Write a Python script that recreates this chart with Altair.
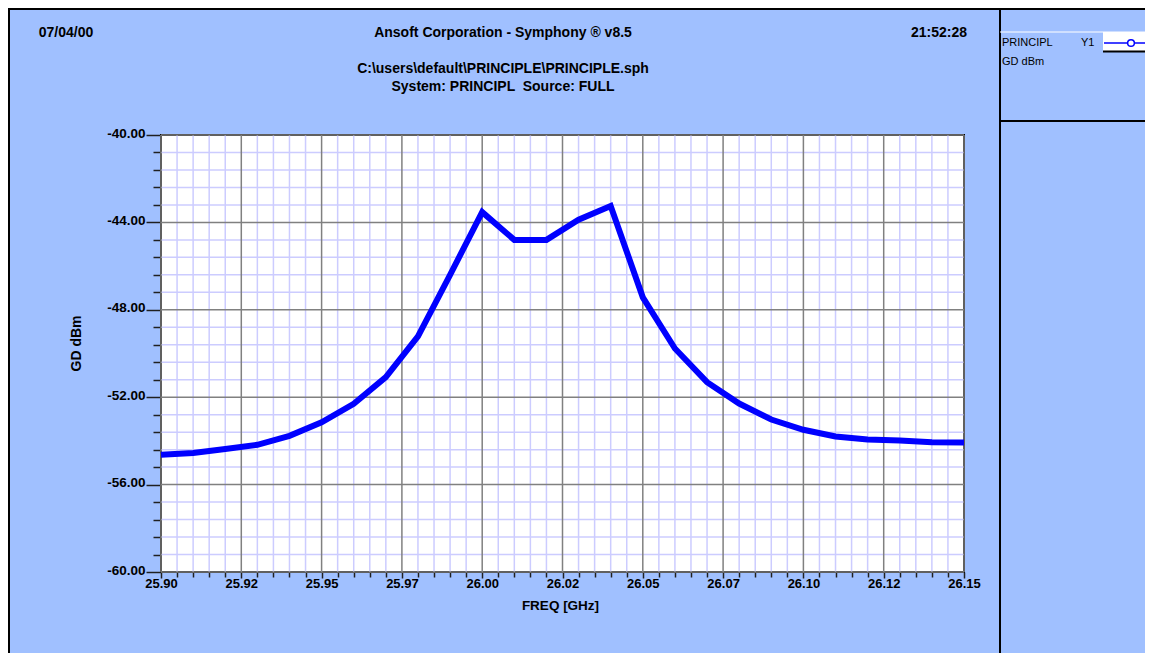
import json
import altair as alt
import pandas as pd

# ---- data ----
freq = [25.90, 25.91, 25.92, 25.93, 25.94, 25.95, 25.96, 25.97, 25.98, 25.99,
        26.00, 26.01, 26.02, 26.03, 26.04, 26.05, 26.06, 26.07, 26.08, 26.09,
        26.10, 26.11, 26.12, 26.13, 26.14, 26.15]
gd_dbm = [-54.63, -54.55, -54.37, -54.18, -53.77, -53.15, -52.30, -51.08, -49.22, -46.40,
          -43.53, -44.80, -44.80, -43.88, -43.25, -47.43, -49.77, -51.31, -52.29, -53.02,
          -53.49, -53.80, -53.94, -53.98, -54.06, -54.07]

x_major = [25.900, 25.925, 25.950, 25.975, 26.000, 26.025, 26.050, 26.075, 26.100, 26.125, 26.150]
x_labels = ["25.90", "25.92", "25.95", "25.97", "26.00", "26.02", "26.05", "26.07", "26.10", "26.12", "26.15"]
y_major = [-60.0, -56.0, -52.0, -48.0, -44.0, -40.0]
y_labels = ["-60.00", "-56.00", "-52.00", "-48.00", "-44.00", "-40.00"]
x_minor = [round(25.9 + 0.005 * i, 3) for i in range(51) if i % 5 != 0]
y_minor = [round(-60 + 0.8 * i, 1) for i in range(26) if i % 5 != 0]

FONT = "Liberation Sans"
BG = "#a0c0ff"
W, H = 803, 437

df = pd.DataFrame({"f": freq, "v": gd_dbm})
xs = alt.Scale(domain=[25.9, 26.15], nice=False, zero=False)
ys = alt.Scale(domain=[-60, -40], nice=False, zero=False)
one = alt.InlineData(values=[{"k": 0}])

x_major_axis = alt.Axis(
    orient="bottom", values=x_major,
    labelExpr=f"{json.dumps(x_labels)}[round((datum.value-25.9)/0.025)]",
    grid=False, domain=False, tickSize=6, tickWidth=1.5, tickColor="#202020",
    labelPadding=-1, labelFont=FONT, labelFontSize=13, labelFontWeight="bold",
    labelColor="black", labelFlush=False, labelOverlap=False,
    title="FREQ [GHz]", titleFont=FONT, titleFontSize=13.5, titleFontWeight="bold",
    titleColor="black", titleX=399, titleY=33, titleBaseline="middle", titleAlign="center",
)
x_minor_axis = alt.Axis(
    orient="bottom", values=x_minor, labels=False, grid=False, domain=False,
    tickSize=5, tickWidth=1.5, tickColor="#202020", title=None,
)
y_major_axis = alt.Axis(
    orient="left", values=y_major,
    labelExpr=f"{json.dumps(y_labels)}[round((datum.value+60)/4)]",
    grid=False, domain=False, tickSize=15, tickWidth=1.5, tickColor="#202020",
    labelPadding=1, labelFont=FONT, labelFontSize=13.5, labelFontWeight="bold",
    labelColor="black", labelFlush=False, labelOverlap=False, labelOffset=-2,
    title="GD dBm", titleFont=FONT, titleFontSize=14, titleFontWeight="bold",
    titleColor="black", titleX=-85, titleY=208, titleAngle=270,
    titleBaseline="middle", titleAlign="center",
)
y_minor_axis = alt.Axis(
    orient="left", values=y_minor, labels=False, grid=False, domain=False,
    tickSize=8, tickWidth=1.5, tickColor="#202020", title=None,
)

minor_x = alt.Chart(pd.DataFrame({"g": x_minor})).mark_rule(color="#ccccff", strokeWidth=1.5).encode(
    x=alt.X("g:Q", scale=xs, axis=x_minor_axis))
minor_y = alt.Chart(pd.DataFrame({"h": y_minor})).mark_rule(color="#ccccff", strokeWidth=1.5).encode(
    y=alt.Y("h:Q", scale=ys, axis=y_minor_axis))
major_x = alt.Chart(pd.DataFrame({"g": x_major})).mark_rule(color="#808080", strokeWidth=1.5).encode(
    x=alt.X("g:Q", scale=xs, axis=None))
major_y = alt.Chart(pd.DataFrame({"h": y_major})).mark_rule(color="#808080", strokeWidth=1.5).encode(
    y=alt.Y("h:Q", scale=ys, axis=None))

line = alt.Chart(df).mark_line(color="#0000ff", strokeWidth=6).encode(
    x=alt.X("f:Q", scale=xs, axis=x_major_axis),
    y=alt.Y("v:Q", scale=ys, axis=y_major_axis),
)


def txt(s, x, y, size=14, bold=True, align="center"):
    return alt.Chart(one).mark_text(
        text=s, align=align, baseline="middle", font=FONT, fontSize=size,
        fontWeight="bold" if bold else "normal", color="black",
    ).encode(x=alt.value(x), y=alt.value(y))


def seg(x1, y1, x2, y2, color="black", width=2):
    return alt.Chart(one).mark_rule(color=color, strokeWidth=width).encode(
        x=alt.value(x1), x2=alt.value(x2), y=alt.value(y1), y2=alt.value(y2))


# plot coordinates: page (161,135) is the plot origin
deco = [
    txt("07/04/00", -95, -102),
    txt("Ansoft Corporation - Symphony \u00ae v8.5", 342, -102),
    txt("21:52:28", 778, -102),
    txt(r"C:\users\default\PRINCIPLE\PRINCIPLE.sph", 342, -66),
    txt("System: PRINCIPL \u00a0Source: FULL", 342, -48),
    # frame
    seg(-152, -126, -152, 530),
    seg(-153, -126, 1000, -126),
    seg(839, -130, 839, 530),
    seg(839, -103, 1000, -103, color="white", width=1),
    alt.Chart(one).mark_rect(color="white").encode(
        x=alt.value(942), x2=alt.value(1000), y=alt.value(-103), y2=alt.value(-84)),
    seg(942, -83.5, 1000, -83.5),
    seg(943, -92, 1000, -92, color="#0000ff", width=1.5),
    alt.Chart(one).mark_point(shape="circle", size=45, filled=True, fill="white",
                              stroke="#0000ff", strokeWidth=1.5, opacity=1).encode(
        x=alt.value(970), y=alt.value(-92)),
    seg(839, -14, 1000, -14),
    txt("PRINCIPL", 841, -92, size=11, bold=False, align="left"),
    txt("Y1", 920, -92, size=11, bold=False, align="left"),
    txt("GD dBm", 841, -73, size=11, bold=False, align="left"),
]

chart = alt.layer(minor_x, minor_y, major_x, major_y, line, *deco).resolve_axis(
    x="independent", y="independent"
).properties(
    width=W, height=H,
    autosize=alt.AutoSizeParams(type="none"),
    padding={"left": 153, "top": 127, "right": 181, "bottom": 81},
).configure(background=BG).configure_view(fill="white", stroke="black", strokeWidth=2)

chart.save("out.html", embed_options={"renderer": "svg", "actions": False})
